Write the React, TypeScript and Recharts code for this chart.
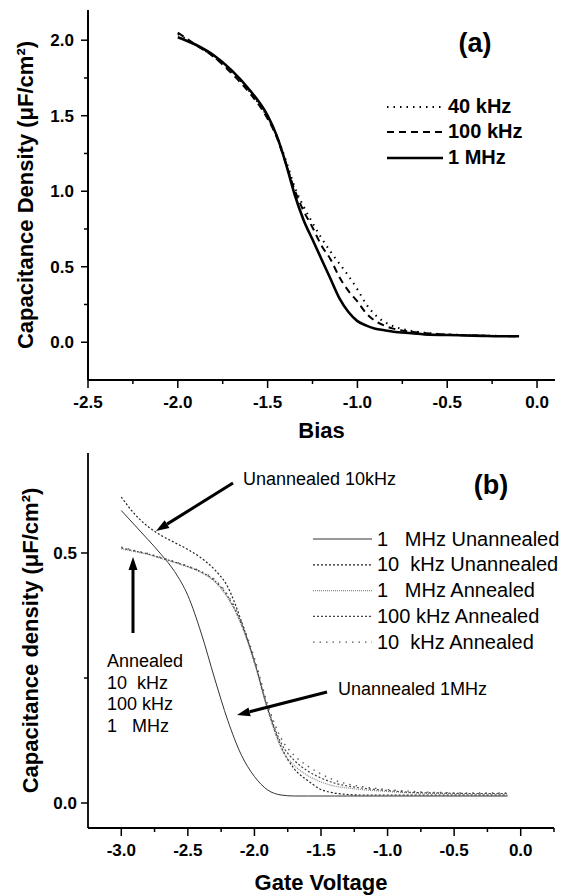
import React from 'react';
import { LineChart, Line, XAxis, YAxis, Legend } from 'recharts';

const FONT = '"Liberation Sans", Arial, Helvetica, sans-serif';

// ---------- Panel (a) data ----------
const biasX = [-2.0, -1.9, -1.8, -1.7, -1.6, -1.5, -1.45, -1.4, -1.35, -1.3, -1.25, -1.2, -1.15, -1.1, -1.05, -1.0, -0.95, -0.9, -0.85, -0.8, -0.7, -0.6, -0.5, -0.4, -0.3, -0.2, -0.1];
const cap40k = [2.04, 1.97, 1.89, 1.79, 1.66, 1.49, 1.37, 1.21, 1.03, 0.9, 0.79, 0.69, 0.6, 0.52, 0.44, 0.35, 0.25, 0.18, 0.135, 0.106, 0.075, 0.06, 0.052, 0.048, 0.044, 0.042, 0.04];
const cap100k = [2.05, 1.97, 1.89, 1.78, 1.65, 1.48, 1.36, 1.19, 1.01, 0.87, 0.76, 0.64, 0.55, 0.43, 0.34, 0.27, 0.19, 0.14, 0.11, 0.09, 0.07, 0.058, 0.05, 0.046, 0.043, 0.041, 0.04];
const cap1M = [2.02, 1.97, 1.9, 1.8, 1.67, 1.5, 1.37, 1.19, 0.98, 0.81, 0.68, 0.55, 0.42, 0.29, 0.2, 0.14, 0.11, 0.09, 0.08, 0.07, 0.06, 0.05, 0.048, 0.045, 0.042, 0.04, 0.04];
const biasTicks = [-2.5, -2.25, -2.0, -1.75, -1.5, -1.25, -1.0, -0.75, -0.5, -0.25, 0.0];
const capTicksA = [0, 0.25, 0.5, 0.75, 1.0, 1.25, 1.5, 1.75, 2.0];
const legendA = ['40 kHz', '100 kHz', '1 MHz'];

// ---------- Panel (b) data ----------
const gateX = [-3.0, -2.9, -2.8, -2.7, -2.6, -2.5, -2.4, -2.3, -2.2, -2.1, -2.0, -1.9, -1.8, -1.7, -1.6, -1.5, -1.4, -1.3, -1.2, -1.0, -0.8, -0.6, -0.4, -0.2, -0.1];
const unann1M = [0.585, 0.556, 0.527, 0.497, 0.463, 0.415, 0.34, 0.25, 0.165, 0.097, 0.053, 0.026, 0.016, 0.014, 0.014, 0.014, 0.014, 0.014, 0.014, 0.014, 0.014, 0.014, 0.014, 0.014, 0.014];
const unann10k = [0.612, 0.578, 0.553, 0.535, 0.521, 0.507, 0.49, 0.467, 0.432, 0.365, 0.282, 0.188, 0.113, 0.068, 0.045, 0.027, 0.02, 0.017, 0.016, 0.016, 0.016, 0.016, 0.016, 0.016, 0.016];
const ann1M = [0.508, 0.503, 0.497, 0.489, 0.481, 0.472, 0.461, 0.443, 0.41, 0.357, 0.28, 0.185, 0.11, 0.075, 0.055, 0.042, 0.034, 0.03, 0.027, 0.023, 0.02, 0.019, 0.018, 0.018, 0.018];
const ann100k = [0.51, 0.504, 0.498, 0.49, 0.482, 0.473, 0.462, 0.445, 0.413, 0.36, 0.284, 0.19, 0.12, 0.085, 0.064, 0.05, 0.04, 0.034, 0.03, 0.025, 0.021, 0.02, 0.019, 0.019, 0.019];
const ann10k = [0.512, 0.505, 0.499, 0.491, 0.483, 0.474, 0.463, 0.447, 0.416, 0.364, 0.29, 0.197, 0.13, 0.095, 0.074, 0.058, 0.046, 0.038, 0.033, 0.027, 0.023, 0.021, 0.02, 0.02, 0.02];
const gateTicks = [-3.0, -2.75, -2.5, -2.25, -2.0, -1.75, -1.5, -1.25, -1.0, -0.75, -0.5, -0.25, 0.0, 0.25];
const capTicksB = [0, 0.25, 0.5];
const legendB = ['1   MHz Unannealed', '10  kHz Unannealed', '1   MHz Annealed', '100 kHz Annealed', '10  kHz Annealed'];
const annealedNote = ['Annealed', '10  kHz', '100 kHz', '1   MHz'];

// ---------- tables ----------
const rowsA = biasX.map((x, i) => ({ x, c40k: cap40k[i], c100k: cap100k[i], c1M: cap1M[i] }));
const rowsB = gateX.map((x, i) => ({ x, u1M: unann1M[i], u10k: unann10k[i], a1M: ann1M[i], a100k: ann100k[i], a10k: ann10k[i] }));

const styleA = [
  { key: 'c40k', dash: '1.5 5', width: 2, color: '#000' },
  { key: 'c100k', dash: '7 5', width: 2, color: '#000' },
  { key: 'c1M', dash: undefined, width: 2.6, color: '#000' },
];
const styleB = [
  { key: 'u1M', dash: undefined, width: 1, color: '#333' },
  { key: 'u10k', dash: '2 2', width: 1.2, color: '#222' },
  { key: 'a1M', dash: '1 1', width: 1.2, color: '#888' },
  { key: 'a100k', dash: '2 2', width: 1.2, color: '#444' },
  { key: 'a10k', dash: '1.5 5', width: 1.3, color: '#555' },
];

const isMajor = (v: number) => Math.abs(v * 2 - Math.round(v * 2)) < 1e-6;
const fmt = (v: number) => (Math.abs(v) < 1e-9 ? 0 : v).toFixed(1);

const makeXTick = () => (props: any) => {
  const { x, y, payload } = props;
  const v = payload.value;
  const major = isMajor(v);
  return (
    <g>
      <line x1={x} x2={x} y1={y} y2={y + (major ? 8 : 4)} stroke="#000" strokeWidth={1.5} />
      {major && (
        <text x={x} y={y + 28} textAnchor="middle" fontFamily={FONT} fontWeight={700} fontSize={17} fill="#000">
          {fmt(v)}
        </text>
      )}
    </g>
  );
};

const makeYTick = (gap: number) => (props: any) => {
  const { x, y, payload } = props;
  const v = payload.value;
  const major = isMajor(v);
  return (
    <g>
      <line x1={x} x2={x - (major ? 7 : 4)} y1={y} y2={y} stroke="#000" strokeWidth={1.5} />
      {major && (
        <text x={x - gap} y={y + 6} textAnchor="end" fontFamily={FONT} fontWeight={700} fontSize={17} fill="#000">
          {fmt(v)}
        </text>
      )}
    </g>
  );
};

function Arrow({ x1, y1, x2, y2 }: { x1: number; y1: number; x2: number; y2: number }) {
  const dx = x2 - x1;
  const dy = y2 - y1;
  const len = Math.sqrt(dx * dx + dy * dy);
  const ux = dx / len;
  const uy = dy / len;
  const hl = 13;
  const hw = 4.5;
  const bx = x2 - ux * hl;
  const by = y2 - uy * hl;
  const pts = `${x2},${y2} ${bx - uy * hw},${by + ux * hw} ${bx + uy * hw},${by - ux * hw}`;
  return (
    <g>
      <line x1={x1} y1={y1} x2={bx} y2={by} stroke="#000" strokeWidth={3} />
      <polygon points={pts} fill="#000" />
    </g>
  );
}

const LegendA = () => (
  <svg width={200} height={80}>
    {legendA.map((name, i) => {
      const s = styleA[i];
      const ly = [12, 37, 63][i];
      return (
        <g key={name}>
          <line x1={7} x2={63} y1={ly} y2={ly} stroke={s.color} strokeWidth={s.width} strokeDasharray={s.dash} />
          <text x={68} y={ly + 6} fontFamily={FONT} fontWeight={700} fontSize={20} fill="#000">
            {name}
          </text>
        </g>
      );
    })}
  </svg>
);

const LegendB = () => (
  <svg width={266} height={140}>
    {legendB.map((name, i) => {
      const s = styleB[i];
      const ly = 19 + i * 25.8;
      return (
        <g key={name}>
          <line x1={8} x2={67} y1={ly} y2={ly} stroke={s.color} strokeWidth={s.width} strokeDasharray={s.dash} />
          <text x={72} y={ly + 6.5} fontFamily={FONT} fontSize={20} fill="#000" style={{ whiteSpace: 'pre' }}>
            {name}
          </text>
        </g>
      );
    })}
  </svg>
);

export default function App() {
  return (
    <div style={{ position: 'absolute', left: 0, top: 0, width: 571, height: 896, background: '#fff', fontFamily: FONT }}>
      {/* Panel (a) */}
      <div style={{ position: 'absolute', left: 0, top: 0, width: 571, height: 448 }}>
        <LineChart width={571} height={448} data={rowsA} margin={{ top: 10, right: 16, bottom: 0, left: 0 }}>
          <XAxis
            type="number"
            dataKey="x"
            domain={[-2.5, 0.1]}
            ticks={biasTicks}
            interval={0}
            allowDataOverflow
            height={68}
            tickLine={false}
            tickSize={0}
            tickMargin={0}
            tick={makeXTick()}
            axisLine={{ stroke: '#000', strokeWidth: 2 }}
            label={{ value: 'Bias', position: 'insideBottom', offset: 10, fill: '#000', fontSize: 22, fontWeight: 700, fontFamily: FONT }}
          />
          <YAxis
            type="number"
            domain={[-0.25, 2.2]}
            ticks={capTicksA}
            interval={0}
            allowDataOverflow
            width={88}
            tickLine={false}
            tickSize={0}
            tickMargin={0}
            tick={makeYTick(14)}
            axisLine={{ stroke: '#000', strokeWidth: 2 }}
            label={{
              value: 'Capacitance Density (\u03bcF/cm\u00b2)',
              angle: -90,
              position: 'insideLeft',
              offset: 25,
              style: { textAnchor: 'middle' },
              fill: '#000',
              fontSize: 22,
              fontWeight: 700,
              fontFamily: FONT,
            }}
          />
          {styleA.map((s, i) => (
            <Line
              key={s.key}
              name={legendA[i]}
              dataKey={s.key}
              type="monotone"
              stroke={s.color}
              strokeWidth={s.width}
              strokeDasharray={s.dash}
              dot={false}
              activeDot={false}
              isAnimationActive={false}
            />
          ))}
          <Legend
            layout="vertical"
            align="center"
            verticalAlign="middle"
            content={() => <LegendA />}
            wrapperStyle={{ position: 'absolute', left: 380, top: 95, width: 200, height: 80 }}
          />
        </LineChart>
        <svg width={571} height={448} style={{ position: 'absolute', left: 0, top: 0, pointerEvents: 'none' }}>
          <text x={475} y={52} textAnchor="middle" fontFamily={FONT} fontWeight={700} fontSize={27} fill="#000">
            (a)
          </text>
        </svg>
      </div>

      {/* Panel (b) */}
      <div style={{ position: 'absolute', left: 0, top: 440, width: 571, height: 456 }}>
        <LineChart width={571} height={456} data={rowsB} margin={{ top: 13, right: 17, bottom: 0, left: 0 }}>
          <XAxis
            type="number"
            dataKey="x"
            domain={[-3.25, 0.25]}
            ticks={gateTicks}
            interval={0}
            allowDataOverflow
            height={68}
            tickLine={false}
            tickSize={0}
            tickMargin={0}
            tick={makeXTick()}
            axisLine={{ stroke: '#000', strokeWidth: 1.8 }}
            label={{ value: 'Gate Voltage', position: 'insideBottom', offset: 6, fill: '#000', fontSize: 22, fontWeight: 700, fontFamily: FONT }}
          />
          <YAxis
            type="number"
            domain={[-0.05, 0.7]}
            ticks={capTicksB}
            interval={0}
            allowDataOverflow
            width={88}
            tickLine={false}
            tickSize={0}
            tickMargin={0}
            tick={makeYTick(11)}
            axisLine={{ stroke: '#000', strokeWidth: 1.8 }}
            label={{
              value: 'Capacitance density (\u03bcF/cm\u00b2)',
              angle: -90,
              position: 'insideLeft',
              offset: 30,
              style: { textAnchor: 'middle' },
              fill: '#000',
              fontSize: 22,
              fontWeight: 700,
              fontFamily: FONT,
            }}
          />
          {styleB.map((s, i) => (
            <Line
              key={s.key}
              name={legendB[i]}
              dataKey={s.key}
              type="monotone"
              stroke={s.color}
              strokeWidth={s.width}
              strokeDasharray={s.dash}
              dot={false}
              activeDot={false}
              isAnimationActive={false}
            />
          ))}
          <Legend
            layout="vertical"
            align="center"
            verticalAlign="middle"
            content={() => <LegendB />}
            wrapperStyle={{ position: 'absolute', left: 305, top: 80, width: 266, height: 140 }}
          />
        </LineChart>
        <svg width={571} height={456} style={{ position: 'absolute', left: 0, top: 0, pointerEvents: 'none' }}>
          <text x={491} y={54} textAnchor="middle" fontFamily={FONT} fontWeight={700} fontSize={27} fill="#000">
            (b)
          </text>
          <text x={243} y={45} fontFamily={FONT} fontSize={18} fill="#000">
            Unannealed 10kHz
          </text>
          <Arrow x1={233} y1={43} x2={156} y2={91} />
          {annealedNote.map((t, i) => (
            <text key={t} x={107} y={227 + i * 21.7} fontFamily={FONT} fontSize={18} fill="#000" style={{ whiteSpace: 'pre' }}>
              {t}
            </text>
          ))}
          <Arrow x1={133} y1={193} x2={133} y2={117} />
          <text x={338} y={255} fontFamily={FONT} fontSize={18} fill="#000">
            Unannealed 1MHz
          </text>
          <Arrow x1={327} y1={252} x2={237} y2={275} />
        </svg>
      </div>
    </div>
  );
}
